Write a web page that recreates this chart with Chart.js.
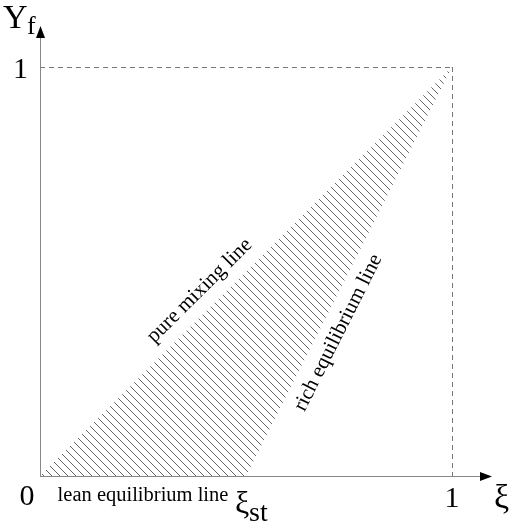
<!DOCTYPE html>
<html>
<head>
<meta charset="utf-8">
<script src="https://cdn.jsdelivr.net/npm/chart.js@4"></script>
<style>
html,body{margin:0;padding:0;background:#fff;}
#c{display:block;}
</style>
</head>
<body>
<canvas id="c" width="510" height="529"></canvas>
<script>
// Mixture fraction ξ and fuel mass fraction Y_f
const xiStoich = 0.5;
const pureMixingXi = [0, 1];
const pureMixingYf = [0, 1];
const equilibriumXi = [0, xiStoich, 1];
const equilibriumYf = [0, 0, 1];
const xTickLabels = ['0', '1'];
const yTickLabels = ['1'];

function hatchPattern(){
  const s = 8;
  const p = document.createElement('canvas');
  p.width = s; p.height = s;
  const g = p.getContext('2d');
  g.strokeStyle = '#555';
  g.lineWidth = 0.9;
  g.beginPath();
  g.moveTo(-1, -1); g.lineTo(s + 1, s + 1);
  g.moveTo(s - 1, -1); g.lineTo(s + 1, 1);
  g.moveTo(-1, s - 1); g.lineTo(1, s + 1);
  g.stroke();
  return g.createPattern(p, 'repeat');
}

const SERIF = '"Liberation Serif", "DejaVu Serif", serif';

const decor = {
  id: 'decor',
  beforeDatasetsDraw(chart){
    const {ctx, scales:{x, y}} = chart;
    const x0 = x.getPixelForValue(0), x1 = x.getPixelForValue(1);
    const y0 = y.getPixelForValue(0), y1 = y.getPixelForValue(1);
    ctx.save();
    ctx.strokeStyle = '#777';
    ctx.lineWidth = 1;
    ctx.setLineDash([5, 4]);
    ctx.beginPath();
    ctx.moveTo(x0, y1 + 0.5); ctx.lineTo(x1, y1 + 0.5);
    ctx.moveTo(x1 + 0.5, y1); ctx.lineTo(x1 + 0.5, y0);
    ctx.stroke();
    ctx.restore();
  },
  afterDatasetsDraw(chart){
    const {ctx, scales:{x, y}} = chart;
    const x0 = x.getPixelForValue(0), x1 = x.getPixelForValue(1);
    const y0 = y.getPixelForValue(0), y1 = y.getPixelForValue(1);
    const xs = x.getPixelForValue(xiStoich);
    ctx.save();
    ctx.strokeStyle = '#888';
    ctx.fillStyle = '#000';
    ctx.lineWidth = 1;
    ctx.beginPath();
    ctx.moveTo(x0, y0 + 0.5); ctx.lineTo(x1 + 30, y0 + 0.5);
    ctx.moveTo(x0 + 0.5, y0); ctx.lineTo(x0 + 0.5, y1 - 30);
    ctx.stroke();
    ctx.beginPath();
    ctx.moveTo(x1 + 40, y0 + 0.5);
    ctx.lineTo(x1 + 28, y0 - 4);
    ctx.lineTo(x1 + 28, y0 + 5);
    ctx.closePath(); ctx.fill();
    ctx.beginPath();
    ctx.moveTo(x0 + 0.5, y1 - 41);
    ctx.lineTo(x0 - 4, y1 - 29);
    ctx.lineTo(x0 + 5, y1 - 29);
    ctx.closePath(); ctx.fill();

    ctx.fillStyle = '#000';
    ctx.textBaseline = 'alphabetic';
    ctx.font = '34px ' + SERIF;
    ctx.textAlign = 'left';
    ctx.fillText('Y', 3, 28);
    ctx.font = '26px ' + SERIF;
    ctx.fillText('f', 27, 34);
    ctx.font = '34px ' + SERIF;
    ctx.fillText('ξ', x1 + 42, y0 + 32);
    ctx.font = '30px ' + SERIF;
    ctx.textAlign = 'right';
    ctx.fillText(yTickLabels[0], x0 - 12, y1 + 11);
    ctx.textAlign = 'center';
    ctx.fillText(xTickLabels[0], x0 - 13, y0 + 29);
    ctx.fillText(xTickLabels[1], x1, y0 + 31);
    ctx.textAlign = 'left';
    ctx.font = '32px ' + SERIF;
    ctx.fillText('ξ', xs - 11, y0 + 37);
    ctx.font = '28px ' + SERIF;
    ctx.fillText('st', xs + 3, y0 + 45);
    ctx.font = '20.5px ' + SERIF;
    ctx.textAlign = 'center';
    ctx.fillText('lean equilibrium line', (x0 + xs) / 2, y0 + 25);
    ctx.font = '21px ' + SERIF;
    ctx.textBaseline = 'middle';
    let px = x.getPixelForValue(0.42), py = y.getPixelForValue(0.42);
    let ang = Math.atan2(y1 - y0, x1 - x0);
    ctx.save();
    ctx.translate(px + Math.sin(ang) * 19, py - Math.cos(ang) * 19);
    ctx.rotate(ang);
    ctx.fillText('pure mixing line', 0, 0);
    ctx.restore();
    const t = 0.37;
    px = xs + (x1 - xs) * t; py = y0 + (y1 - y0) * t;
    ang = Math.atan2(y1 - y0, x1 - xs);
    ctx.save();
    ctx.translate(px - Math.sin(ang) * 18, py + Math.cos(ang) * 18);
    ctx.rotate(ang);
    ctx.fillText('rich equilibrium line', 0, 0);
    ctx.restore();
    ctx.restore();
  }
};

const pattern = hatchPattern();

new Chart(document.getElementById('c'), {
  type: 'scatter',
  data: {
    datasets: [
      {
        label: 'pure mixing line',
        data: pureMixingXi.map((v, i) => ({x: v, y: pureMixingYf[i]})),
        showLine: true,
        borderWidth: 0,
        borderColor: 'rgba(0,0,0,0)',
        pointRadius: 0,
        fill: false
      },
      {
        label: 'equilibrium lines',
        data: equilibriumXi.map((v, i) => ({x: v, y: equilibriumYf[i]})),
        showLine: true,
        borderWidth: 0,
        borderColor: 'rgba(0,0,0,0)',
        pointRadius: 0,
        backgroundColor: pattern,
        fill: '-1'
      }
    ]
  },
  options: {
    responsive: false,
    animation: false,
    layout: {padding: {left: 40, right: 58, top: 67, bottom: 53}},
    plugins: {legend: {display: false}, tooltip: {enabled: false}},
    scales: {
      x: {type: 'linear', min: 0, max: 1, display: false},
      y: {type: 'linear', min: 0, max: 1, display: false}
    }
  },
  plugins: [decor]
});
</script>
</body>
</html>
